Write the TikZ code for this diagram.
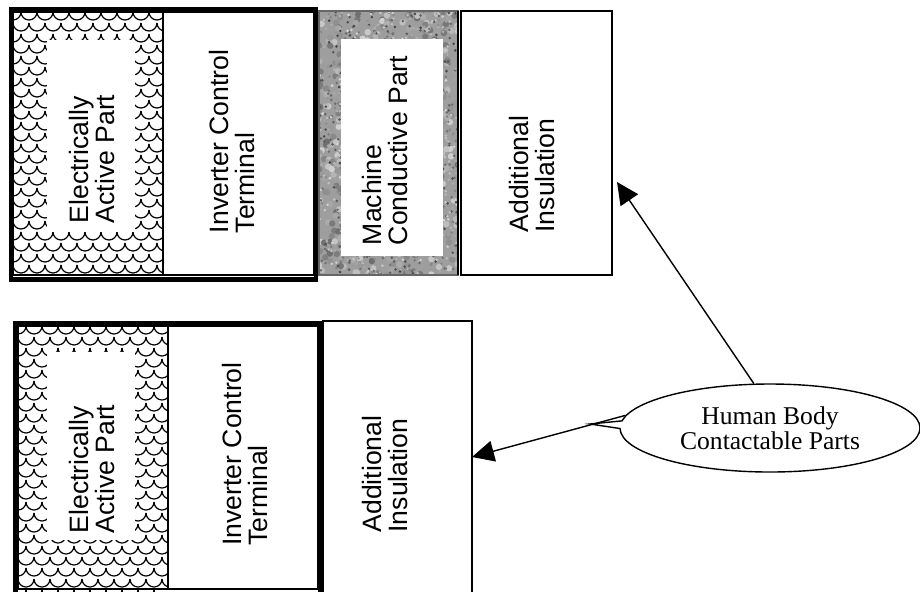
\documentclass[tikz,border=0pt]{standalone}
\usepackage{fontspec}
\setmainfont{Liberation Serif}
\setsansfont{Liberation Sans}
\usetikzlibrary{arrows.meta}
\usetikzlibrary{shapes.callouts}
\newcommand{\drawScaleFill}[4]{
	\begin{scope}
		\clip (#1,#2) rectangle (#3,#4);
		\foreach \j in {0,...,26} {
			\foreach \i in {-1,...,11} {
				\pgfmathsetmacro{\sx}{#1 + \i*16 + mod(\j,2)*8}
				\pgfmathsetmacro{\sy}{#2 + \j*11}
				\draw[scaleline] (\sx,\sy) ++(-8,0) arc[start angle=180, end angle=360, radius=4pt];
			}
		}
	\end{scope}
}
\newcommand{\drawNoiseFill}[4]{
	\fill[black!38] (#1,#2) rectangle (#3,#4);
	\begin{scope}
		\clip (#1,#2) rectangle (#3,#4);
		% soft patches
		\foreach \k in {1,...,500} {
			\pgfmathsetmacro{\nx}{#1+(#3-#1)*rnd}
			\pgfmathsetmacro{\ny}{#2+(#4-#2)*rnd}
			\pgfmathtruncatemacro{\ng}{18+40*rnd}
			\fill[black!\ng] (\nx,\ny) circle[radius=1.6pt];
		}
		% fine specks
		\foreach \k in {1,...,1200} {
			\pgfmathsetmacro{\nx}{#1+(#3-#1)*rnd}
			\pgfmathsetmacro{\ny}{#2+(#4-#2)*rnd}
			\pgfmathtruncatemacro{\ng}{15+60*rnd}
			\fill[black!\ng] (\nx,\ny) circle[radius=0.7pt];
		}
	\end{scope}
}

\begin{document}
\begin{tikzpicture}[x=0.5pt, y=-0.5pt,
		thickframe/.style={line width=2.4pt},
		thinline/.style={line width=0.7pt},
		scaleline/.style={line width=0.6pt},
		boxlabel/.style={rotate=90, align=left, inner sep=0pt, font=\sffamily\fontsize{13.3pt}{12.6pt}\selectfont},
		bodycallout/.style={ellipse callout, draw, line width=0.7pt, align=center, inner sep=1pt,
			minimum width=150pt, minimum height=44pt, callout pointer arc=10,
			font=\fontsize{12.8pt}{12.6pt}\selectfont},
		arrowline/.style={line width=0.7pt, -{Triangle[length=11pt, width=10.5pt]}}]
		\useasboundingbox (0,0) rectangle (920,591);
		\clip (0,0) rectangle (920,591);
		\pgfmathsetseed{7}

		% top row
		\drawScaleFill{13}{12}{163}{275}
		\fill[white] (47,40) rectangle (135,232);
		\draw[thinline] (13,12) rectangle (163,275);
		\draw[thinline] (163,12) rectangle (314,275);
		\drawNoiseFill{319}{11}{458}{275}
		\fill[white] (341,39) rectangle (443,256);
		\draw[thinline, black!60] (319,11) rectangle (458,275);
		\draw[thinline] (458,11) -- (458,275);
		\draw[thinline] (461,11) rectangle (612,275);
		\draw[thickframe] (11,9.5) rectangle (316,279.5);

		\node[boxlabel] (EA1) at (92,159) {Electrically\\Active Part};
		\node[boxlabel] (IC1) at (232,141.5) {Inverter Control\\Terminal};
		\node[boxlabel] (MC1) at (385,150.5) {Machine\\Conductive Part};
		\node[boxlabel] (AI1) at (532,174) {Additional\\Insulation};

		% bottom row
		\drawScaleFill{18}{326}{168}{591}
		\fill[white] (47,352) rectangle (135,540);
		\draw[thinline] (18,326) rectangle (168,589);
		\draw[thinline] (168,326) rectangle (318,589);
		\draw[thinline] (323,321) rectangle (472,620);
		\draw[thickframe] (15.5,323.5) rectangle (320.5,598);

		\node[boxlabel] (EA2) at (92,469) {Electrically\\Active Part};
		\node[boxlabel] (IC2) at (245,454) {Inverter Control\\Terminal};
		\node[boxlabel] (AI2) at (385,474) {Additional\\Insulation};

		% callout and arrows
		\coordinate (AI1_tip) at (617,182);
		\coordinate (AI2_tip) at (472,457);
		\coordinate (HB_tail) at (590,424);
		\node[bodycallout, callout absolute pointer={(HB_tail)}] (HB) at (770,428) {Human Body\\Contactable Parts};
		\draw[arrowline] (HB.110) -- (AI1_tip);
		\draw[arrowline] (HB.175) -- (AI2_tip);
	\end{tikzpicture}
\end{document}
